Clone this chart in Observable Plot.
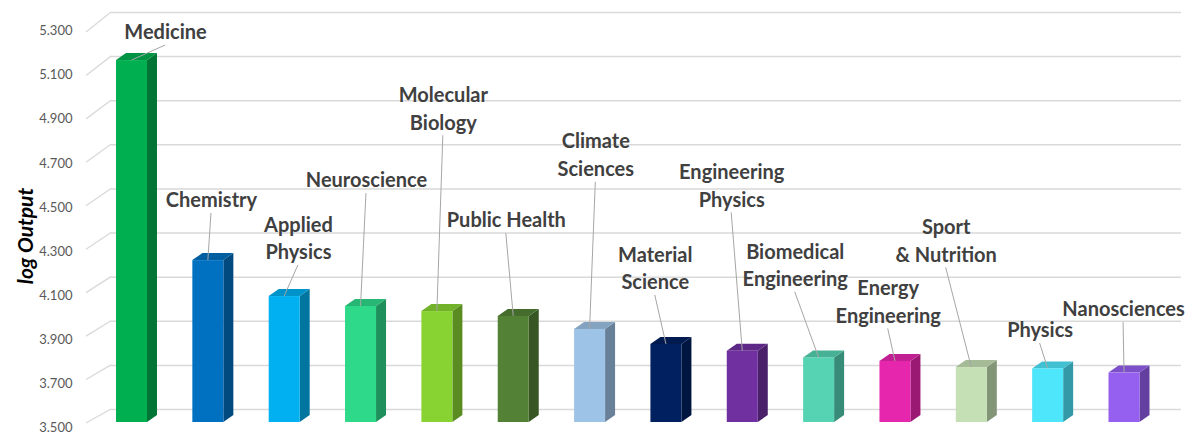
<!DOCTYPE html>
<html><head><meta charset="utf-8">
<script src="https://cdn.jsdelivr.net/npm/d3@7"></script>
<script src="https://cdn.jsdelivr.net/npm/@observablehq/plot@0.6"></script>
<style>body{margin:0;background:#fff}#chart{width:1186px;height:434px}</style>
</head><body><div id="chart"></div>
<script>
// ---- data ----
const fields = ["Medicine","Chemistry","Applied Physics","Neuroscience","Molecular Biology","Public Health","Climate Sciences","Material Science","Engineering Physics","Biomedical Engineering","Energy Engineering","Sport & Nutrition","Physics","Nanosciences"];
const values = [5.141,4.234,4.071,4.026,4.003,3.981,3.922,3.854,3.823,3.793,3.777,3.749,3.743,3.724];
const colors = ["#00b050","#0070c0","#00b0f0","#2fd98a","#88d332","#538135","#9dc3e6","#002060","#7030a0","#55d3b3","#e726ae","#c5e0b4","#4ee6fa","#955ff0"];
const labelText = ["Medicine","Chemistry","Applied\nPhysics","Neuroscience","Molecular\nBiology","Public Health","Climate\nSciences","Material\nScience","Engineering\nPhysics","Biomedical\nEngineering","Energy\nEngineering","Sport\n& Nutrition","Physics","Nanosciences"];
// label anchor positions, in category-index and value units
const labelX = [0.439,1.041,2.180,3.071,4.078,4.903,6.075,6.854,7.855,8.687,9.905,10.664,11.895,12.988];
const labelY = [5.218,4.457,4.284,4.547,4.872,4.366,4.661,4.148,4.522,4.162,3.996,4.273,3.867,3.962];
const yTicks = [3.5,3.7,3.9,4.1,4.3,4.5,4.7,4.9,5.1,5.3];
const tickLabels = ["3.500","3.700","3.900","4.100","4.300","4.500","4.700","4.900","5.100","5.300"];

// ---- layout ----
const FRONT_DY = 13, DEPTH_X = 10, DEPTH_Y = 7, BAR_W = 31, FONT = 20, LINE_H = 1.38;
const Y0 = 3.5;

const data = fields.map((f, i) => ({i, field: f, value: values[i], color: colors[i], label: labelText[i], lx: labelX[i], ly: labelY[i]}));

function el(tag, attrs) {
  const e = document.createElementNS("http://www.w3.org/2000/svg", tag);
  for (const k in attrs) e.setAttribute(k, attrs[k]);
  return e;
}

// floor diagonals at the left
const diagonals = (index, scales, values, dim) => {
  const g = el("g", {stroke: "#d9d9d9", "stroke-width": 1.3});
  for (const t of yTicks) {
    const yb = scales.y(t);
    const dy = 14 + 6 * (t - 3.5) / 1.8;
    g.append(el("line", {x1: dim.marginLeft - 25, y1: yb + dy, x2: dim.marginLeft, y2: yb}));
  }
  return g;
};

// side and top faces of the bars
const faces = (index, scales) => {
  const g = el("g", {});
  for (const d of data) {
    const cx = scales.x(d.i);
    const xl = cx - BAR_W / 2, xr = cx + BAR_W / 2;
    const yb = scales.y(Y0) + FRONT_DY, yt = scales.y(d.value) + FRONT_DY;
    const c = d3.color(d.color);
    g.append(el("polygon", {points: `${xr},${yb} ${xr + DEPTH_X},${yb - DEPTH_Y} ${xr + DEPTH_X},${yt - DEPTH_Y} ${xr},${yt}`, fill: c.darker(1.15).formatHex()}));
    g.append(el("polygon", {points: `${xl},${yt} ${xr},${yt} ${xr + DEPTH_X},${yt - DEPTH_Y} ${xl + DEPTH_X},${yt - DEPTH_Y}`, fill: c.darker(0.5).formatHex()}));
  }
  return g;
};

// leader lines
const leaders = (index, scales) => {
  const g = el("g", {stroke: "#a6a6a6", "stroke-width": 1});
  for (const d of data) {
    const n = d.label.split("\n").length;
    const x1 = scales.x(d.lx), y1 = scales.y(d.ly) + (n - 1) * FONT * LINE_H / 2 + 15;
    const x2 = scales.x(d.i), y2 = scales.y(d.value) + FRONT_DY;
    g.append(el("line", {x1, y1, x2, y2}));
  }
  return g;
};

const unitPx = (1124 - 131.5) / 13;
const inset = (unitPx - BAR_W) / 2;

const chart = Plot.plot({
  width: 1186,
  height: 434,
  marginLeft: 111,
  marginRight: 5,
  marginTop: 12,
  marginBottom: 25,
  style: {fontFamily: "Lato, 'Open Sans', sans-serif", background: "#fff"},
  x: {type: "linear", domain: [0, 13], range: [131.5, 1124], axis: null},
  y: {domain: [3.5, 5.3], axis: null},
  marks: [
    Plot.ruleY(yTicks, {stroke: "#d9d9d9", strokeWidth: 1.5}),
    diagonals,
    Plot.text(yTicks, {y: d => d, text: (d, i) => tickLabels[i], frameAnchor: "left", textAnchor: "end", dx: -39, dy: 18.5, fontSize: 13, fill: "#595959"}),
    Plot.text(["log Output"], {frameAnchor: "left", textAnchor: "middle", rotate: -90, dx: -85, dy: 25, fontSize: 21, fontWeight: "bold", fontStyle: "italic", fill: "#000"}),
    faces,
    Plot.rect(data, {x1: d => d.i - 0.5, x2: d => d.i + 0.5, y1: Y0, y2: "value", fill: "color", insetLeft: inset, insetRight: inset, dy: FRONT_DY}),
    leaders,
    Plot.text(data, {x: "lx", y: "ly", text: "label", fontSize: FONT, fontWeight: "bold", fill: "#404040", lineHeight: LINE_H})
  ]
});
document.getElementById("chart").append(chart);
</script>
</body></html>
